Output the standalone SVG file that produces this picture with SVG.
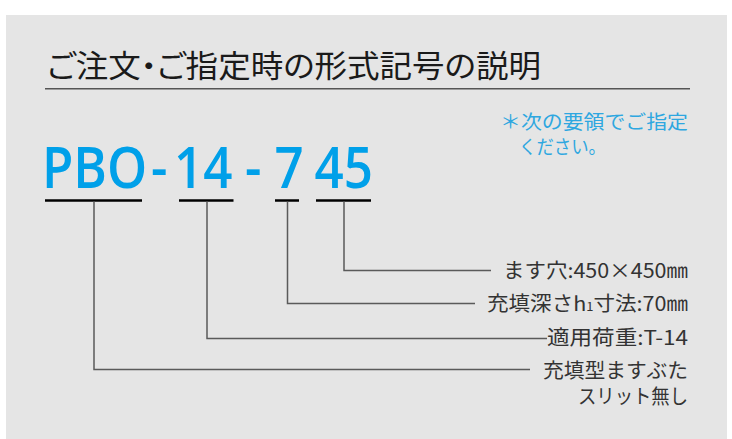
<svg xmlns="http://www.w3.org/2000/svg" width="732" height="439" viewBox="0 0 732 439">
<style>
.bg{fill:#e5e5e5}
.title{font-family:"Noto Sans CJK JP","Noto Sans",sans-serif;font-size:31px;fill:#1a1a1a;font-feature-settings:"palt"}
.code{font-family:"Open Sans","Liberation Sans",sans-serif;font-size:58px;font-weight:600;fill:#00a0e9}
.note{font-family:"Noto Sans CJK JP","Noto Sans",sans-serif;font-size:19px;fill:#2ea7e0}
.lbl{font-family:"Noto Sans CJK JP","Noto Sans",sans-serif;font-size:20px;fill:#333;text-anchor:end}
.ul{stroke:#000;stroke-width:2.5;fill:none}
.con{stroke:#5a5a5a;stroke-width:1.5;fill:none}
</style>
<rect class="bg" x="6" y="15" width="721" height="424"/>
<g id="title">
<text class="title" x="47" y="77" textLength="494" lengthAdjust="spacingAndGlyphs">ご注文・ご指定時の形式記号の説明</text>
<line x1="45" y1="88.7" x2="690" y2="88.7" stroke="#555" stroke-width="1.5"/>
</g>
<g id="note">
<text class="note" x="500" y="128.5" textLength="188" lengthAdjust="spacingAndGlyphs">＊次の要領でご指定</text>
<text class="note" x="519" y="153.5" textLength="87" lengthAdjust="spacingAndGlyphs">ください。</text>
</g>
<g id="code">
<text class="code" y="188" transform="scale(0.88,1)"><tspan x="47.7">PBO</tspan><tspan x="171.6">-</tspan><tspan x="197.7">14</tspan><tspan x="278.4">-</tspan><tspan x="311.9">7</tspan><tspan x="357.4">45</tspan></text>
</g>
<g id="underlines">
<line class="ul" x1="45" y1="200.5" x2="142" y2="200.5"/>
<line class="ul" x1="179" y1="200.5" x2="233.5" y2="200.5"/>
<line class="ul" x1="275" y1="200.5" x2="299" y2="200.5"/>
<line class="ul" x1="316" y1="200.5" x2="371" y2="200.5"/>
</g>
<g id="connectors">
<polyline class="con" points="344,201.5 344,270.5 491,270.5"/>
<polyline class="con" points="287.5,201.5 287.5,303.5 475,303.5"/>
<polyline class="con" points="207,201.5 207,338.5 547,338.5"/>
<polyline class="con" points="94,201.5 94,369.5 530,369.5"/>
</g>
<g id="label-hole">
<text class="lbl" x="688" y="278" textLength="185" lengthAdjust="spacingAndGlyphs">ます穴:450×450㎜</text>
</g>
<g id="label-depth">
<text class="lbl" x="688" y="311" textLength="201" lengthAdjust="spacingAndGlyphs">充填深さh<tspan font-size="12">1</tspan>寸法:70㎜</text>
</g>
<g id="label-load">
<text class="lbl" x="688" y="345" textLength="141" lengthAdjust="spacingAndGlyphs">適用荷重:T-14</text>
</g>
<g id="label-type">
<text class="lbl" x="688" y="377.5" textLength="145" lengthAdjust="spacingAndGlyphs">充填型ますぶた</text>
<text class="lbl" x="688" y="403.5" textLength="110" lengthAdjust="spacingAndGlyphs">スリット無し</text>
</g>
</svg>
